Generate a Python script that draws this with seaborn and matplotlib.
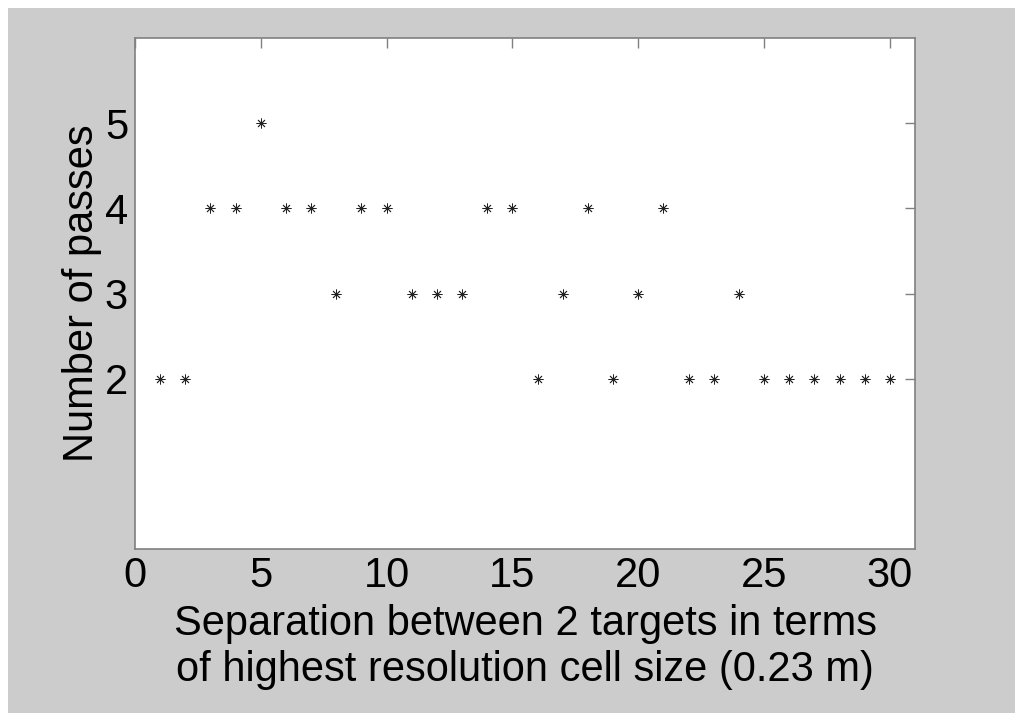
import matplotlib
matplotlib.use("Agg")
import matplotlib.pyplot as plt
import seaborn as sns
import pandas as pd

# values
separation = list(range(1, 31))
passes = [2, 2, 4, 4, 5, 4, 4, 3, 4, 4,
          3, 3, 3, 4, 4, 2, 3, 4, 2, 3,
          4, 2, 2, 3, 2, 2, 2, 2, 2, 2]
x_ticks = [0, 5, 10, 15, 20, 25, 30]
y_ticks = [2, 3, 4, 5]

sns.set_style("white")
plt.rcParams["font.family"] = ["Liberation Sans", "DejaVu Sans"]

df = pd.DataFrame({"sep": separation, "passes": passes})

fig = plt.figure(figsize=(10.24, 7.21), dpi=100, facecolor="white")
# grey frame behind everything
fig.patches.append(plt.Rectangle((8 / 1024, 8 / 721), 1007 / 1024, 705 / 721,
                                 transform=fig.transFigure, facecolor="#cccccc",
                                 edgecolor="none", zorder=-10))
ax = fig.add_axes([135 / 1024, 172 / 721, 780 / 1024, 511 / 721])
ax.set_facecolor("white")

sns.scatterplot(data=df, x="sep", y="passes", ax=ax, marker=(8, 2, 0),
                s=45, color="#222222", linewidth=0.6, legend=False)

ax.set_xlim(0, 31)
ax.set_ylim(0, 6)
ax.set_xticks(x_ticks)
ax.set_yticks(y_ticks)
ax.tick_params(direction="in", length=7, width=1, color="#808080",
               labelsize=30, top=True, right=True, labelcolor="black", pad=5)
for s in ax.spines.values():
    s.set_visible(True)
    s.set_color("#808080")
    s.set_linewidth(1.2)

ax.set_xlabel("Separation between 2 targets in terms\nof highest resolution cell size (0.23 m)",
              fontsize=30, labelpad=6, linespacing=1.2, color="black")
ax.set_ylabel("Number of passes", fontsize=30, labelpad=2, color="black")

fig.savefig("out.png", dpi=100, facecolor=fig.get_facecolor())
